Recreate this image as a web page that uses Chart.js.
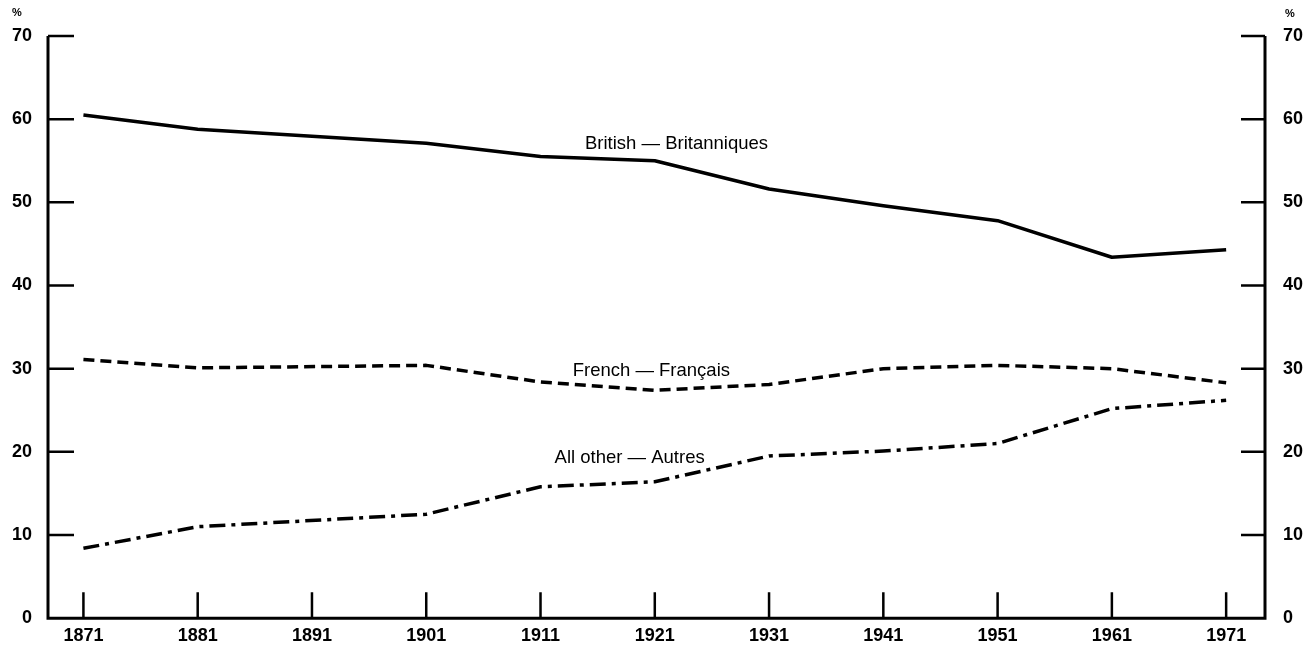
<!DOCTYPE html>
<html>
<head>
<meta charset="utf-8">
<script src="https://cdn.jsdelivr.net/npm/chart.js@4"></script>
<style>
    html, body { margin: 0; padding: 0; background: #fff; }
    #wrap { width: 1305px; height: 647px; position: relative; }
</style>
</head>
<body>
<div id="wrap"><canvas id="originChart"></canvas></div>
<script>
// census years with data (no 1891 point on the original)
const years = [1871, 1881, 1901, 1911, 1921, 1931, 1941, 1951, 1961, 1971];
const tickYears = [1871, 1881, 1891, 1901, 1911, 1921, 1931, 1941, 1951, 1961, 1971];
const yTicks = [0, 10, 20, 30, 40, 50, 60, 70];

const british = [60.5, 58.8, 57.1, 55.5, 55.0, 51.6, 49.6, 47.8, 43.4, 44.3];
const french = [31.1, 30.1, 30.4, 28.4, 27.4, 28.1, 30.0, 30.4, 30.0, 28.3];
const allOther = [8.4, 11.0, 12.5, 15.8, 16.4, 19.5, 20.1, 21.0, 25.2, 26.2];

const seriesLabels = ["British — Britanniques", "French — Français", "All other — Autres"];
// where each series name sits, in data units (year, %)
const labelYears = [1922.9, 1920.7, 1918.8];
const labelValues = [57.0, 29.7, 19.3];

let originChart = {};

originChart.TICK_FONT = { family: "'Liberation Sans', Arial, sans-serif", size: 18, weight: "bold" };
originChart.LABEL_FONT = "18.5px 'Liberation Sans', Arial, sans-serif";

originChart.points = function (values) {
    return years.map((year, i) => ({ x: year, y: values[i] }));
};

originChart.DATA = {
    datasets: [
        {
            label: seriesLabels[0],
            data: originChart.points(british),
            borderColor: "#000",
            borderWidth: 3.5,
        },
        {
            label: seriesLabels[1],
            data: originChart.points(french),
            borderColor: "#000",
            borderWidth: 3.5,
            borderDash: [11, 6],
        },
        {
            label: seriesLabels[2],
            data: originChart.points(allOther),
            borderColor: "#000",
            borderWidth: 3.5,
            borderDash: [16, 6, 4, 6],
        },
    ],
};

// frame + inward tick marks, series names, % signs
originChart.frame = {
    id: "frame",
    afterDraw: function (chart) {
        const ctx = chart.ctx;
        const area = chart.chartArea;
        const x = chart.scales.x;
        const y = chart.scales.y;

        ctx.save();
        ctx.strokeStyle = "#000";
        ctx.lineWidth = 3;
        ctx.lineCap = "butt";
        ctx.beginPath();
        ctx.moveTo(area.left, area.top);
        ctx.lineTo(area.left, area.bottom);
        ctx.lineTo(area.right, area.bottom);
        ctx.lineTo(area.right, area.top);
        ctx.stroke();

        ctx.lineWidth = 2.5;
        ctx.beginPath();
        for (const v of yTicks) {
            if (v === 0) continue;
            const py = y.getPixelForValue(v);
            ctx.moveTo(area.left, py);
            ctx.lineTo(area.left + 26, py);
            ctx.moveTo(area.right - 24, py);
            ctx.lineTo(area.right, py);
        }
        for (const year of tickYears) {
            const px = x.getPixelForValue(year);
            ctx.moveTo(px, area.bottom);
            ctx.lineTo(px, area.bottom - 26);
        }
        ctx.stroke();

        ctx.fillStyle = "#000";
        ctx.font = originChart.LABEL_FONT;
        ctx.textAlign = "center";
        ctx.textBaseline = "middle";
        for (let i = 0; i < seriesLabels.length; i++) {
            ctx.fillText(seriesLabels[i], x.getPixelForValue(labelYears[i]), y.getPixelForValue(labelValues[i]));
        }

        ctx.font = "bold 11px 'Liberation Sans', Arial, sans-serif";
        ctx.fillText("%", 17, 13);
        ctx.fillText("%", 1290, 14);
        ctx.restore();
    },
};

originChart.SCALES = {
    x: {
        type: "linear",
        min: 1867.9,
        max: 1974.4,
        grid: { display: false, drawTicks: false },
        border: { display: false },
        ticks: {
            color: "#000",
            font: originChart.TICK_FONT,
            padding: 7,
            maxRotation: 0,
            callback: (value) => String(value),
        },
        afterBuildTicks: function (axis) {
            axis.ticks = tickYears.map((v) => ({ value: v }));
        },
        afterFit: function (axis) {
            axis.height = 26;
        },
    },
    y: {
        position: "left",
        min: 0,
        max: 70,
        grid: { display: false, drawTicks: false },
        border: { display: false },
        ticks: { stepSize: 10, color: "#000", font: originChart.TICK_FONT, padding: 16 },
        afterFit: function (axis) {
            axis.width = 48;
        },
    },
    y1: {
        position: "right",
        min: 0,
        max: 70,
        grid: { display: false, drawTicks: false },
        border: { display: false },
        ticks: { stepSize: 10, color: "#000", font: originChart.TICK_FONT, padding: 18 },
        afterFit: function (axis) {
            axis.width = 40;
        },
    },
};

originChart.CONFIG = {
    type: "line",
    data: originChart.DATA,
    options: {
        responsive: true,
        maintainAspectRatio: false,
        animation: false,
        layout: { padding: { top: 36, left: 0, right: 0, bottom: 0 } },
        elements: {
            point: { radius: 0 },
            line: { tension: 0, borderCapStyle: "butt", borderJoinStyle: "round" },
        },
        plugins: {
            legend: { display: false },
            tooltip: { enabled: false },
        },
        scales: originChart.SCALES,
    },
    plugins: [originChart.frame],
};

originChart.chart = new Chart(document.getElementById("originChart"), originChart.CONFIG);
</script>
</body>
</html>
